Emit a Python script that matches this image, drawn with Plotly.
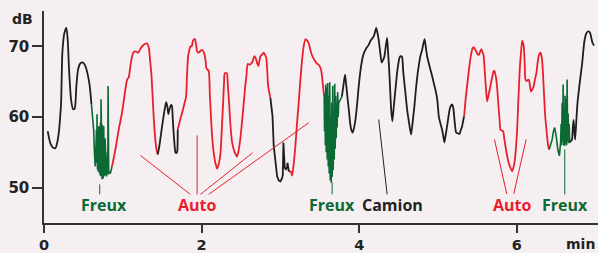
import plotly.graph_objects as go

# ---- data (minutes, dB) ----
black1_t = [0.047, 0.08, 0.11, 0.145, 0.17, 0.19, 0.205, 0.217, 0.233, 0.259, 0.284, 0.301, 0.318, 0.343, 0.369, 0.39, 0.411, 0.432, 0.462, 0.496, 0.525, 0.555, 0.58, 0.602]
black1_db = [58.0, 56.3, 55.7, 55.6, 56.5, 58.0, 60.0, 62.0, 69.1, 71.9, 72.6, 70.9, 66.7, 62.5, 61.1, 61.2, 64.4, 66.7, 67.6, 67.7, 67.2, 66.0, 64.4, 61.8]

green1_t = [0.602, 0.615, 0.63, 0.64, 0.65, 0.657, 0.665, 0.669, 0.673, 0.678, 0.682, 0.687, 0.695, 0.70, 0.707, 0.711, 0.716, 0.72, 0.724, 0.728, 0.733, 0.737, 0.741, 0.745, 0.75, 0.754, 0.758, 0.763, 0.767, 0.771, 0.775, 0.783, 0.792, 0.80, 0.805, 0.809, 0.813, 0.817, 0.821, 0.832, 0.843, 0.855, 0.864]
green1_db = [61.8, 60.0, 58.2, 54.9, 53.0, 55.0, 58.2, 53.5, 60.4, 52.6, 57.0, 52.3, 58.7, 52.1, 57.5, 51.8, 59.2, 51.6, 62.5, 51.4, 57.5, 51.2, 58.9, 51.3, 58.0, 51.5, 58.7, 51.7, 56.0, 51.9, 57.0, 52.1, 51.6, 52.0, 55.0, 52.0, 64.4, 52.0, 51.9, 52.2, 52.1, 52.6, 53.05]

red1_t = [0.864, 0.906, 0.948, 0.99, 1.02, 1.055, 1.075, 1.10, 1.118, 1.14, 1.16, 1.194, 1.22, 1.245, 1.275, 1.308, 1.33, 1.345, 1.363, 1.378, 1.392, 1.405, 1.418, 1.43, 1.443]
red1_db = [53.05, 55.4, 58.2, 60.6, 62.9, 65.3, 65.6, 67.5, 68.6, 69.2, 69.3, 69.1, 69.6, 70.0, 70.3, 70.4, 69.8, 68.2, 66.0, 63.0, 60.0, 57.8, 56.2, 55.2, 54.7]

black2_t = [1.443, 1.465, 1.499, 1.53, 1.55, 1.565, 1.578, 1.59, 1.61, 1.622, 1.635, 1.65, 1.668, 1.68, 1.69, 1.697]
black2_db = [54.7, 56.0, 58.7, 61.0, 62.1, 61.5, 60.4, 61.0, 61.7, 61.6, 59.5, 57.0, 55.0, 54.9, 55.1, 58.2]

red2_t = [1.697, 1.725, 1.753, 1.78, 1.803, 1.815, 1.829, 1.843, 1.858, 1.875, 1.89, 1.905, 1.917, 1.93, 1.943, 1.96, 1.98, 2.005, 2.03, 2.05, 2.061, 2.09, 2.105, 2.121, 2.135, 2.154, 2.175, 2.197, 2.22, 2.24, 2.255, 2.273, 2.285, 2.294, 2.32, 2.333, 2.349, 2.365, 2.387, 2.42, 2.45, 2.47, 2.49, 2.51, 2.535, 2.555, 2.569, 2.585, 2.61, 2.64, 2.655, 2.67, 2.69, 2.705, 2.72, 2.735, 2.746, 2.765, 2.788, 2.805, 2.82, 2.833, 2.844, 2.86, 2.873]
red2_db = [58.2, 59.5, 60.6, 61.8, 62.9, 66.0, 68.6, 69.4, 70.0, 70.0, 70.8, 71.0, 71.0, 70.2, 69.3, 69.1, 69.3, 69.5, 69.1, 68.0, 66.9, 66.5, 63.0, 59.6, 57.0, 54.9, 53.5, 52.7, 53.5, 54.9, 58.0, 62.0, 65.0, 66.2, 66.2, 64.5, 62.0, 59.0, 56.4, 55.0, 54.4, 55.3, 56.8, 59.0, 62.0, 64.5, 65.8, 67.5, 67.4, 67.7, 68.2, 68.6, 68.2, 67.6, 67.2, 68.0, 68.6, 68.8, 69.1, 68.8, 68.4, 66.5, 64.4, 63.4, 62.7]

black3_t = [2.873, 2.885, 2.9, 2.915, 2.935, 2.958, 2.98, 3.0, 3.02, 3.03, 3.038, 3.045, 3.055, 3.07, 3.085, 3.09, 3.097, 3.105, 3.12]
black3_db = [62.7, 61.5, 60.1, 55.9, 53.5, 51.6, 51.0, 50.9, 51.3, 51.8, 56.4, 53.5, 52.8, 52.6, 52.9, 53.5, 52.6, 52.4, 52.3]

red3_t = [3.12, 3.135, 3.148, 3.165, 3.19, 3.21, 3.232, 3.255, 3.275, 3.295, 3.317, 3.34, 3.36, 3.38, 3.402, 3.43, 3.46, 3.486, 3.516, 3.54, 3.555]
red3_db = [52.3, 52.2, 51.7, 53.0, 55.9, 59.0, 62.0, 65.5, 68.1, 70.0, 71.0, 70.8, 70.4, 69.5, 68.7, 68.1, 67.6, 67.4, 66.7, 64.4, 62.9]

green2_t = [3.555, 3.56, 3.565, 3.57, 3.575, 3.581, 3.588, 3.594, 3.60, 3.607, 3.613, 3.619, 3.626, 3.632, 3.638, 3.645, 3.651, 3.657, 3.664, 3.67, 3.676, 3.683, 3.689, 3.695, 3.702, 3.708, 3.714, 3.72, 3.727, 3.733, 3.74, 3.76, 3.78]
green2_db = [62.9, 58.0, 63.4, 56.0, 64.6, 55.0, 64.2, 54.0, 64.8, 53.0, 63.0, 52.0, 64.9, 51.0, 60.0, 50.7, 62.0, 51.5, 64.4, 52.5, 61.0, 54.0, 64.7, 55.5, 63.0, 57.0, 62.0, 58.5, 63.5, 60.0, 62.0, 62.5, 62.9]

black4_t = [3.78, 3.80, 3.82, 3.835, 3.85, 3.87, 3.89, 3.905, 3.918, 3.935, 3.952, 3.975, 3.994, 4.015, 4.037, 4.058, 4.079, 4.10, 4.12, 4.135, 4.15, 4.165, 4.184, 4.2, 4.215, 4.23, 4.247, 4.265, 4.285, 4.30, 4.32, 4.337, 4.354, 4.367, 4.38, 4.393, 4.405, 4.42, 4.433, 4.447, 4.465, 4.48, 4.497, 4.514, 4.53, 4.544, 4.558, 4.573, 4.59, 4.607, 4.632, 4.658, 4.68, 4.70, 4.72, 4.742, 4.76, 4.776, 4.798, 4.815, 4.83, 4.846, 4.862, 4.883, 4.904, 4.925, 4.946, 4.968, 4.99, 5.01, 5.03, 5.052, 5.067, 5.081, 5.098, 5.115, 5.132, 5.148, 5.163, 5.179, 5.195, 5.21, 5.23, 5.25, 5.272, 5.29, 5.306, 5.32, 5.331]
black4_db = [62.9, 64.5, 66.0, 64.5, 62.9, 60.8, 58.7, 58.0, 57.8, 58.5, 59.6, 62.0, 64.4, 66.5, 68.1, 69.0, 69.5, 69.9, 70.2, 70.6, 70.9, 71.1, 71.4, 72.0, 72.6, 72.0, 70.9, 69.3, 67.7, 68.0, 68.6, 70.0, 71.2, 69.0, 66.7, 63.8, 61.1, 59.4, 60.8, 62.5, 64.5, 66.2, 67.6, 68.5, 68.6, 68.5, 66.5, 64.8, 63.0, 61.1, 59.2, 57.5, 59.5, 61.5, 64.0, 66.2, 67.6, 68.6, 69.5, 70.4, 71.0, 69.8, 68.6, 67.6, 66.7, 65.8, 64.8, 63.8, 62.5, 60.1, 59.1, 58.2, 57.3, 56.4, 57.5, 58.7, 60.0, 61.1, 61.6, 61.8, 61.2, 59.5, 57.8, 57.7, 57.6, 58.2, 58.7, 59.5, 60.1]

red4_t = [5.331, 5.35, 5.369, 5.385, 5.398, 5.41, 5.424, 5.438, 5.453, 5.468, 5.484, 5.5, 5.517, 5.533, 5.55, 5.565, 5.58, 5.59, 5.60, 5.612, 5.623, 5.645, 5.665, 5.69, 5.707, 5.716, 5.728, 5.74, 5.755, 5.77, 5.782, 5.792, 5.81, 5.826, 5.84, 5.855, 5.875, 5.897, 5.92, 5.94, 5.955, 5.97, 5.988, 6.004, 6.02, 6.037, 6.052, 6.068, 6.078, 6.088, 6.10, 6.11, 6.13, 6.145, 6.155, 6.168, 6.18, 6.197, 6.214, 6.23, 6.248, 6.262, 6.277, 6.29, 6.30, 6.31, 6.32, 6.33, 6.34, 6.35, 6.36, 6.375, 6.39, 6.40, 6.41]
red4_db = [60.1, 62.5, 64.4, 66.0, 67.2, 68.2, 69.1, 69.7, 69.9, 69.6, 69.3, 68.9, 68.8, 69.2, 69.6, 69.2, 68.6, 67.0, 65.3, 63.5, 62.2, 63.3, 64.4, 65.8, 66.5, 66.5, 66.0, 65.3, 63.5, 61.1, 59.5, 58.2, 58.1, 58.0, 57.0, 55.9, 54.6, 53.5, 52.8, 52.3, 52.8, 53.5, 55.5, 58.2, 62.5, 66.7, 69.0, 70.8, 70.5, 70.0, 67.5, 65.3, 65.1, 65.3, 65.2, 64.3, 63.6, 63.9, 64.4, 65.3, 66.2, 67.5, 68.6, 69.0, 69.1, 68.8, 68.1, 66.5, 64.4, 62.2, 60.1, 58.3, 56.6, 55.8, 55.4]

green3_t = [6.41, 6.43, 6.448, 6.465, 6.48, 6.50, 6.52, 6.54, 6.556, 6.562, 6.568, 6.575, 6.581, 6.588, 6.594, 6.60, 6.607, 6.613, 6.619, 6.626, 6.632, 6.638, 6.645, 6.651, 6.657, 6.664, 6.671]
green3_db = [55.4, 56.0, 56.8, 58.0, 58.5, 57.3, 55.4, 54.5, 56.5, 59.0, 56.0, 62.0, 56.5, 64.6, 56.0, 61.0, 55.9, 63.0, 56.2, 62.5, 56.0, 65.3, 56.5, 60.5, 56.3, 59.0, 56.4]

black5_t = [6.671, 6.685, 6.70, 6.71, 6.72, 6.73, 6.74, 6.755, 6.77, 6.80, 6.83, 6.845, 6.86, 6.88, 6.90, 6.915, 6.93, 6.945, 6.96, 6.98]
black5_db = [56.4, 56.6, 56.8, 58.5, 59.6, 58.0, 56.8, 59.5, 62.0, 65.0, 67.7, 69.5, 70.9, 71.8, 72.1, 72.1, 71.9, 71.2, 70.5, 70.1]

x_ticks = [0, 2, 4, 6]
y_ticks = [50, 60, 70]

labels = ["Freux", "Auto", "Freux", "Camion", "Auto", "Freux"]
label_kind = ["freux", "auto", "freux", "camion", "auto", "freux"]
label_t = [0.758, 1.943, 3.656, 4.417, 5.948, 6.608]

# ---- styles ----
BLACK = "#1e1e1e"
RED = "#e8202c"
GREEN = "#0b6a34"
BG = "#f5eff2"
kind_color = {"freux": GREEN, "auto": RED, "camion": "#222222"}

fig = go.Figure()

segments = [
    (black1_t, black1_db, BLACK, "spline"),
    (green1_t, green1_db, GREEN, "linear"),
    (red1_t, red1_db, RED, "spline"),
    (black2_t, black2_db, BLACK, "spline"),
    (red2_t, red2_db, RED, "spline"),
    (black3_t, black3_db, BLACK, "linear"),
    (red3_t, red3_db, RED, "spline"),
    (green2_t, green2_db, GREEN, "linear"),
    (black4_t, black4_db, BLACK, "spline"),
    (red4_t, red4_db, RED, "spline"),
    (green3_t, green3_db, GREEN, "linear"),
    (black5_t, black5_db, BLACK, "spline"),
]
for t, db, col, shape in segments:
    line = dict(color=col, width=1.8 if col != GREEN else 1.6, shape=shape)
    if shape == "spline":
        line["smoothing"] = 0.6
    fig.add_trace(go.Scatter(x=t, y=db, mode="lines", line=line,
                             hoverinfo="skip", showlegend=False))

# leader lines (annotation layout, data coordinates)
leaders = [
    (1.223, 54.56, 1.858, 49.05, RED),
    (1.943, 57.39, 1.943, 49.05, RED),
    (1.985, 49.05, 2.648, 54.94, RED),
    (2.09, 49.05, 3.359, 59.18, RED),
    (5.716, 56.82, 5.872, 49.12, RED),
    (5.961, 49.12, 6.118, 56.82, RED),
    (4.247, 59.65, 4.354, 49.05, "#222222"),
    (0.707, 50.47, 0.707, 49.05, GREEN),
    (3.656, 50.75, 3.656, 49.05, GREEN),
    (6.608, 55.41, 6.608, 49.05, GREEN),
]
for x0, y0, x1, y1, col in leaders:
    fig.add_shape(type="line", x0=x0, y0=y0, x1=x1, y1=y1, xref="x", yref="y",
                  line=dict(color=col, width=1))

for txt, kind, tx in zip(labels, label_kind, label_t):
    fig.add_annotation(x=tx, y=47.6, xref="x", yref="y", text=txt, showarrow=False,
                       font=dict(family="Open Sans", size=16, color=kind_color[kind], weight="bold"),
                       xanchor="center", yanchor="middle")

fig.add_annotation(x=-0.0388, y=0.962, xref="paper", yref="paper", text="dB", showarrow=False,
                   font=dict(family="DejaVu Sans", size=14, color="#222222", weight="bold"),
                   xanchor="center", yanchor="middle")
fig.add_annotation(x=0.969, y=-0.098, xref="paper", yref="paper", text="min", showarrow=False,
                   font=dict(family="DejaVu Sans", size=14, color="#222222", weight="bold"),
                   xanchor="center", yanchor="middle")

fig.update_layout(
    width=598, height=253,
    margin=dict(l=44, r=0, t=11, b=30),
    paper_bgcolor=BG, plot_bgcolor=BG,
    xaxis=dict(range=[0, 7.03], tickvals=x_ticks, ticktext=[str(v) for v in x_ticks],
               automargin=False,
               showgrid=False, zeroline=False, showline=True, linecolor="#333333", linewidth=1.5,
               ticks="outside", ticklen=8, tickwidth=1.5, tickcolor="#333333",
               tickfont=dict(family="DejaVu Sans", size=14.5, color="#222222", weight="bold")),
    yaxis=dict(range=[45, 75], tickvals=y_ticks, ticktext=[str(v) for v in y_ticks],
               automargin=False,
               showgrid=False, zeroline=False, showline=True, linecolor="#333333", linewidth=1.5,
               ticks="outside", ticklen=10, tickwidth=1.5, tickcolor="#333333",
               tickfont=dict(family="DejaVu Sans", size=15, color="#222222", weight="bold")),
)

fig.write_html("out.html", config={"displayModeBar": False},
               post_script="document.body.style.margin='0px';document.body.style.background='%s';" % BG)
